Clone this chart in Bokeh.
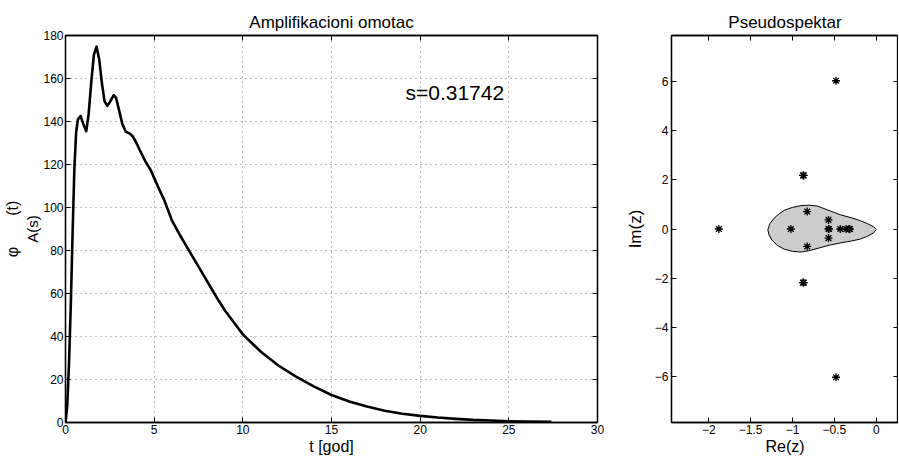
import math
from bokeh.plotting import figure
from bokeh.models import Range1d, LinearAxis, FixedTicker, Label
from bokeh.layouts import row
from bokeh.embed import file_html
from bokeh.resources import INLINE

# ---------------- data ----------------
t_years = [0.0, 0.1, 0.2, 0.3, 0.4, 0.5, 0.6, 0.7, 0.85, 1.0, 1.17, 1.3, 1.45, 1.6, 1.75,
           1.9, 2.05, 2.2, 2.35, 2.5, 2.72, 2.85, 3.0, 3.2, 3.4, 3.6, 3.8, 4.0, 4.2, 4.5,
           4.8, 5.2, 5.55, 6.0, 6.5, 7.0, 7.5, 8.0, 8.5, 9.0, 9.5, 10.0, 11.0, 12.0, 13.0,
           14.0, 15.0, 16.0, 17.0, 18.0, 19.0, 20.0, 21.0, 22.0, 23.0, 24.0, 25.0, 26.0, 27.4]
phi_vals = [0.0, 8.0, 28.0, 55.0, 88.0, 118.0, 135.0, 141.0, 142.5, 139.0, 135.5, 143.0, 158.0, 171.0, 174.8,
            169.0, 158.0, 149.5, 147.3, 149.0, 152.3, 151.0, 146.0, 139.0, 135.2, 134.5, 133.0, 130.0, 126.5, 121.5,
            117.5, 110.0, 103.8, 94.0, 86.5, 79.5, 72.5, 65.5, 58.5, 52.0, 46.5, 41.0, 33.0, 26.5, 21.3,
            16.8, 12.8, 9.8, 7.4, 5.5, 4.1, 3.1, 2.3, 1.7, 1.2, 0.9, 0.6, 0.45, 0.3]
s_value = "0.31742"

eig_re = [-1.88, -1.02, -0.825, -0.825, -0.875, -0.865, -0.875, -0.865, -0.57, -0.57, -0.565, -0.57,
          -0.43, -0.36, -0.325, -0.315, -0.48, -0.48]
eig_im = [0.0, 0.0, 0.71, -0.71, 2.18, 2.18, -2.18, -2.18, 0.37, 0.0, 0.0, -0.37,
          0.0, 0.0, 0.0, 0.0, 6.03, -6.03]

contour_re = [-1.295, -1.27, -1.22, -1.16, -1.10, -1.0, -0.9, -0.8, -0.7, -0.6, -0.5, -0.43, -0.3,
              -0.19, -0.1, -0.03, 0.0, -0.03, -0.1, -0.19, -0.3, -0.43, -0.55, -0.67, -0.8, -0.9,
              -1.0, -1.10, -1.18, -1.24, -1.28]
contour_im = [-0.03, 0.22, 0.44, 0.62, 0.76, 0.88, 0.95, 0.97, 0.93, 0.80, 0.67, 0.58, 0.46,
              0.34, 0.21, 0.09, -0.02, -0.15, -0.29, -0.41, -0.49, -0.57, -0.65, -0.76, -0.88, -0.94,
              -0.91, -0.82, -0.67, -0.48, -0.25]

x_ticks1 = [0, 5, 10, 15, 20, 25, 30]
y_ticks1 = [0, 20, 40, 60, 80, 100, 120, 140, 160, 180]
x_ticks2 = [-2, -1.5, -1, -0.5, 0]
y_ticks2 = [-6, -4, -2, 0, 2, 4, 6]

FONT = "Liberation Sans"


def minus(v):
    return ("%g" % v).replace("-", "\u2212")


def style_axis(ax, ticks, labels=True):
    ax.ticker = FixedTicker(ticks=ticks)
    ax.major_tick_in = 5
    ax.major_tick_out = 0
    ax.minor_tick_in = 0
    ax.minor_tick_out = 0
    ax.axis_line_color = "black"
    ax.axis_line_width = 1.3
    ax.major_tick_line_color = "black"
    ax.major_tick_line_width = 1
    ax.major_label_text_font = FONT
    ax.major_label_text_font_size = "12px"
    ax.major_label_text_color = "black"
    if labels:
        ax.major_label_standoff = 3
        ax.major_label_overrides = {v: minus(v) for v in ticks if v < 0}
    else:
        ax.major_label_standoff = 0
        ax.major_label_overrides = {v: "" for v in ticks}
        ax.axis_label = None


def set_label(ax, text, size, standoff):
    ax.axis_label = text
    ax.axis_label_text_font = FONT
    ax.axis_label_text_font_size = size
    ax.axis_label_text_font_style = "normal"
    ax.axis_label_text_color = "black"
    ax.axis_label_standoff = standoff


def label_only_axis(ticks, text, size, standoff):
    ax = LinearAxis()
    style_axis(ax, ticks, labels=False)
    ax.major_tick_in = 0
    ax.axis_line_color = None
    ax.major_tick_line_color = None
    set_label(ax, text, size, standoff)
    return ax


def base_fig(**kw):
    p = figure(output_backend="svg", toolbar_location=None,
               min_border_top=35, min_border_bottom=35, frame_height=387, **kw)
    p.background_fill_color = "white"
    p.border_fill_color = "white"
    p.outline_line_color = "black"
    p.outline_line_width = 1.3
    p.title.text_font = FONT
    p.title.text_font_size = "17px"
    p.title.text_font_style = "normal"
    p.title.text_color = "black"
    p.title.align = "center"
    p.title.standoff = 7
    return p


# ---------------- left: amplification envelope ----------------
p1 = base_fig(title="Amplifikacioni omotac", frame_width=532,
              min_border_left=65, min_border_right=22,
              x_range=Range1d(0, 30), y_range=Range1d(0, 180))
style_axis(p1.xaxis[0], x_ticks1)
style_axis(p1.yaxis[0], y_ticks1)
p1.yaxis[0].major_label_standoff = 2
set_label(p1.xaxis[0], "t [god]", "16px", 1)
p1.xaxis[0].major_label_standoff = 2
p1.add_layout(LinearAxis(), "above")
p1.add_layout(LinearAxis(), "right")
style_axis(p1.above[-1], x_ticks1, labels=False)
style_axis(p1.right[-1], y_ticks1, labels=False)
for g in p1.grid:
    g.grid_line_color = "#808080"
    g.grid_line_dash = "1 4"
    g.grid_line_width = 1
p1.xgrid.ticker = FixedTicker(ticks=x_ticks1)
p1.ygrid.ticker = FixedTicker(ticks=y_ticks1)

p1.line(t_years, phi_vals, line_color="black", line_width=2.6, line_join="round")

p1.add_layout(Label(x=19.17, y=153.6, text="s=" + s_value, text_font=FONT,
                    text_font_size="21px", text_color="black",
                    text_align="left", text_baseline="alphabetic"))

# y label  phi_{A(s)}(t): subscript on an inner label-only axis, main symbols outside it
p1.add_layout(label_only_axis(y_ticks1, "A(s)", "15px", 0), "left")
p1.add_layout(label_only_axis(y_ticks1, "\u03c6" + "\u00a0" * 7 + "(t)", "16px", 0), "left")

# ---------------- right: pseudospectrum ----------------
p2 = base_fig(title="Pseudospektar", frame_width=227,
              min_border_left=52, min_border_right=0,
              x_range=Range1d(-2.446, 0.266), y_range=Range1d(-7.87, 7.87))
style_axis(p2.xaxis[0], x_ticks2)
style_axis(p2.yaxis[0], y_ticks2)
set_label(p2.xaxis[0], "Re(z)", "16px", 1)
p2.xaxis[0].major_label_standoff = 2
set_label(p2.yaxis[0], "Im(z)", "17px", 7)
p2.add_layout(LinearAxis(), "above")
p2.add_layout(LinearAxis(), "right")
style_axis(p2.above[-1], x_ticks2, labels=False)
style_axis(p2.right[-1], y_ticks2, labels=False)
p2.grid.visible = False

p2.patch(contour_re, contour_im, fill_color="#cccccc", line_color="black", line_width=1)
p2.scatter(eig_re, eig_im, marker="asterisk", size=8, line_color="black", line_width=1.3)

layout = row(p1, p2)
open("out.html", "w").write(file_html(layout, INLINE))
